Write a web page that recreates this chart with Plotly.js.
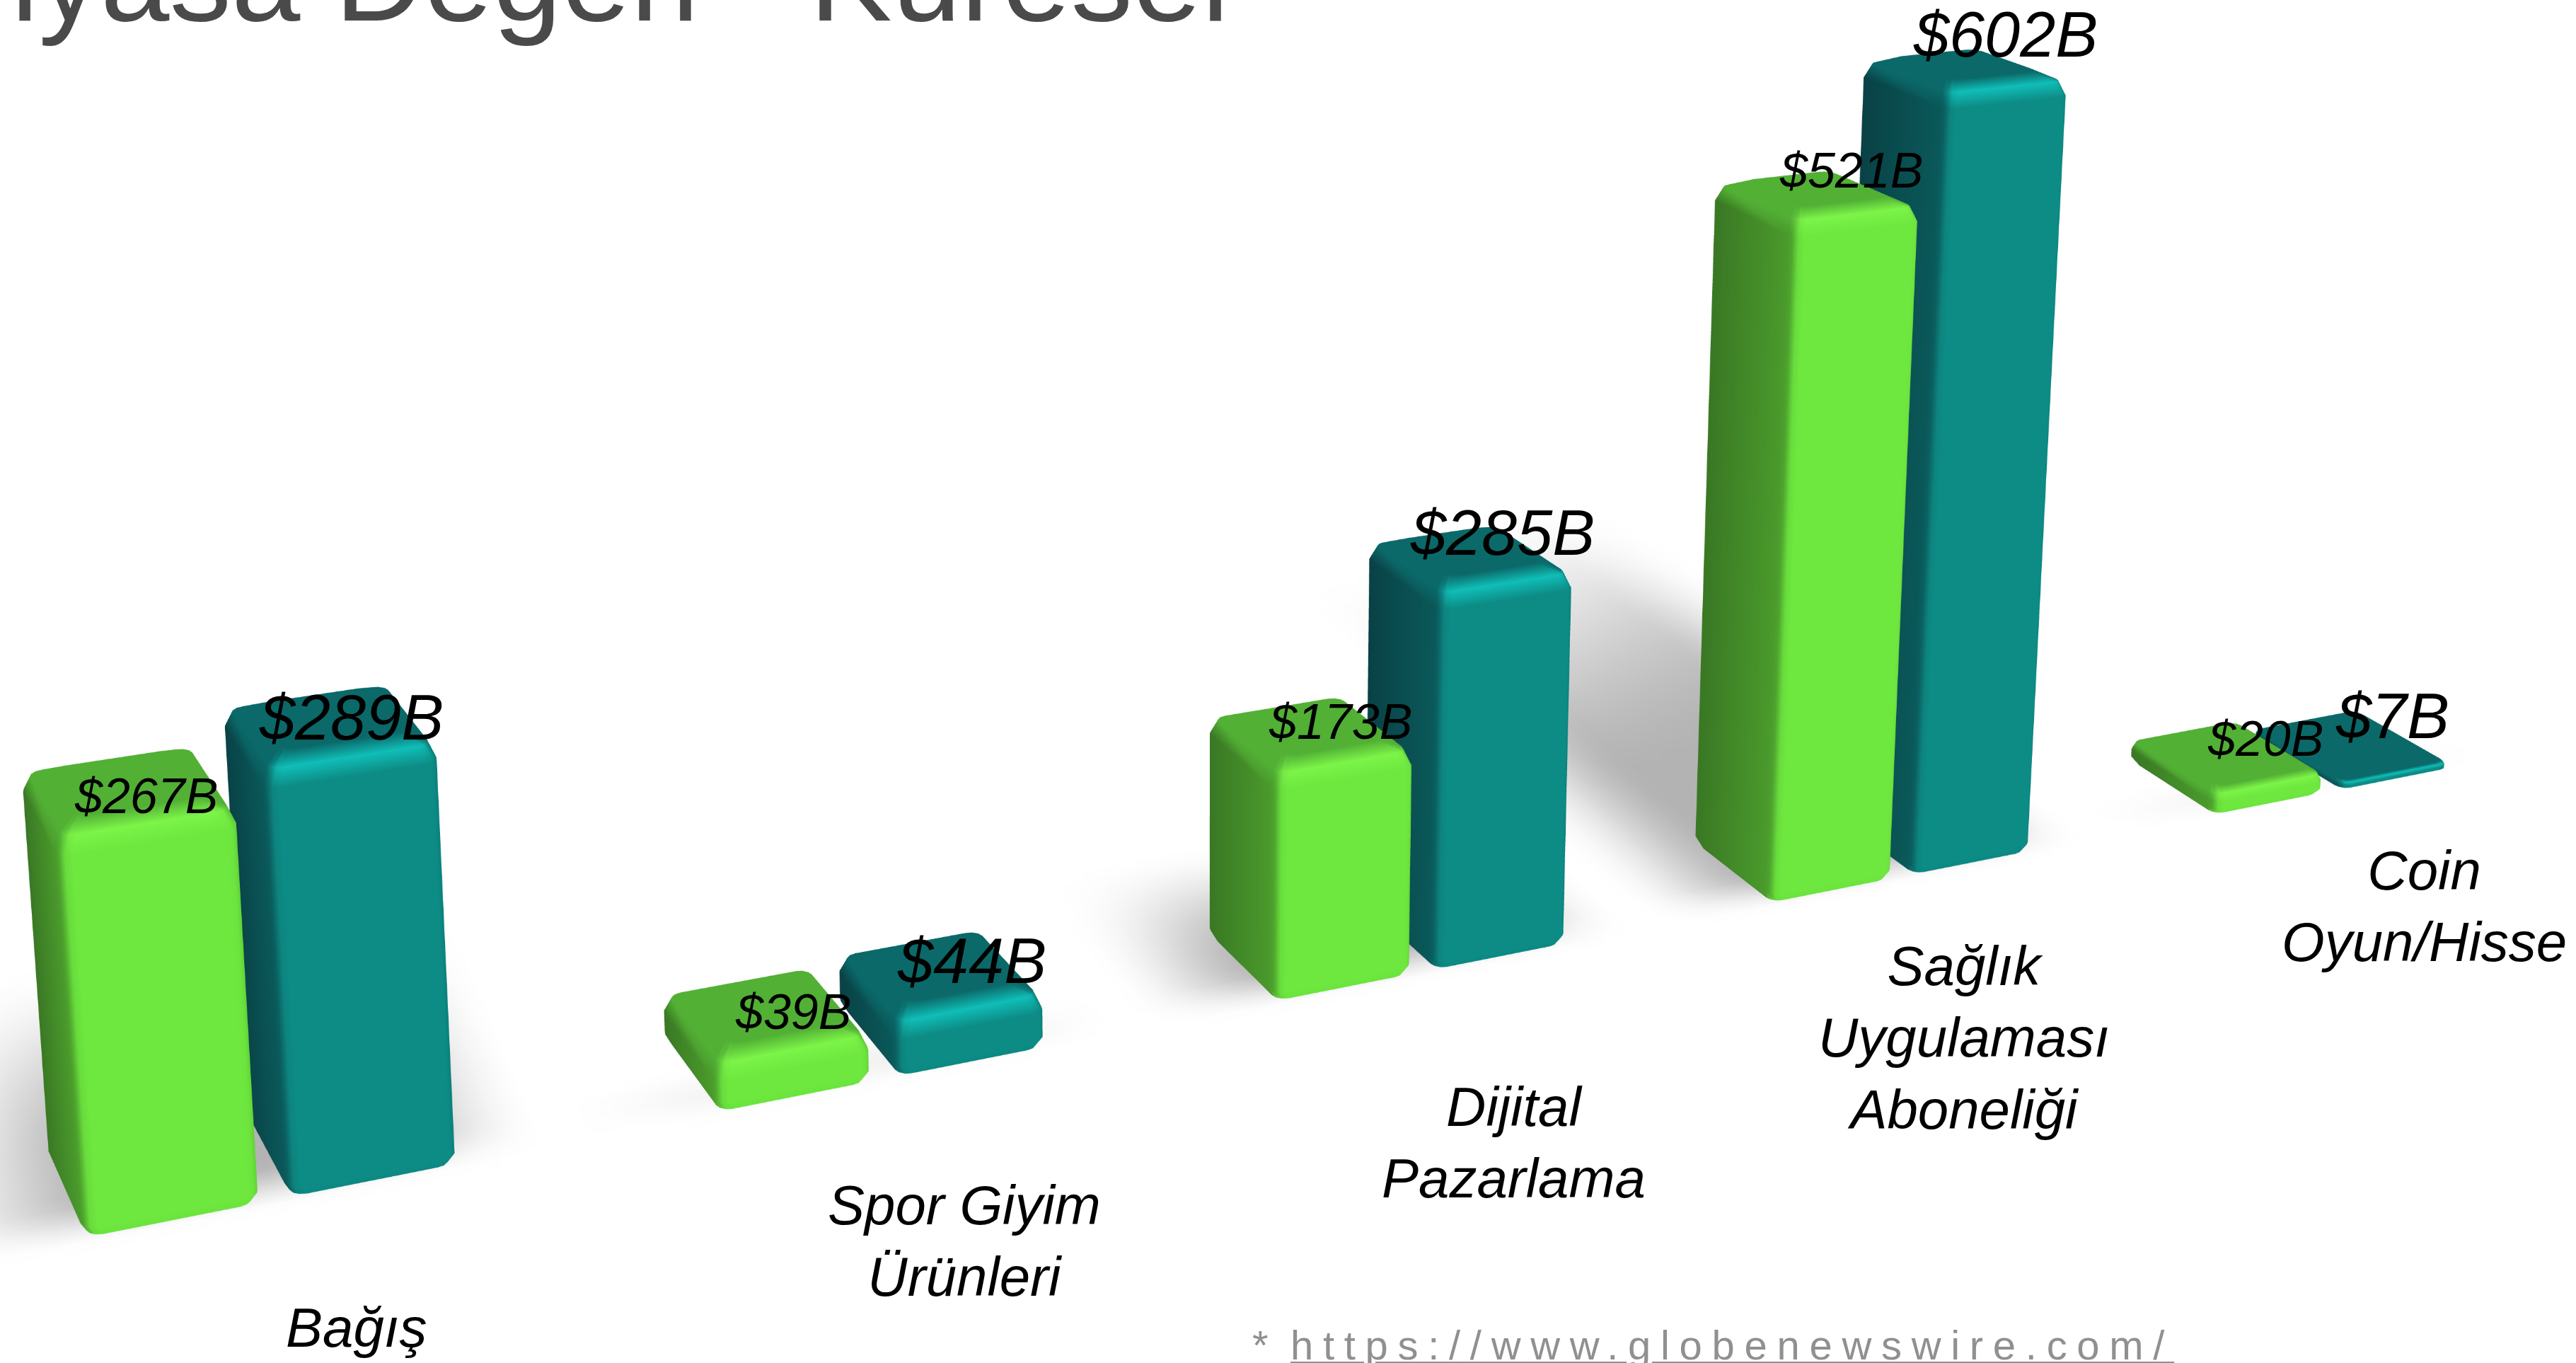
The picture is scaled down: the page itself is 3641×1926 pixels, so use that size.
<!DOCTYPE html>
<html><head><meta charset="utf-8">
<script src="https://cdn.plot.ly/plotly-3.0.1.min.js"></script>
<style>
html,body{margin:0;padding:0;background:#fff;overflow:hidden}
#wrap{position:fixed;left:0;top:0;width:3641px;height:1926px;overflow:hidden;background:#fff}
#chart{position:absolute;left:-275px;top:-2132px;width:3916px;height:4096px}
text.annotation-text[data-unformatted^="https"]{letter-spacing:13.7px}
</style></head><body>
<div id="wrap"><div id="chart"></div></div>
<script>
var categories = ["Bağış","Spor Giyim<br>Ürünleri","Dijital<br>Pazarlama","Sağlık<br>Uygulaması<br>Aboneliği","Coin<br>Oyun/Hisse"];
var greenValues = [267,39,173,521,20];
var tealValues = [289,44,285,602,7];
var titleText = "Piyasa Değeri - Küresel";
var sourceText = "https://www.globenewswire.com/";

var zScale = 0.000839, W = 0.088, DEPTH = 0.092, GAP = 0.0137, STEP = 0.3292, X0 = 0.0738, YF = 1.708;
var xr=[-0.3,2.0], yr=[1.4,2.7], zr=[-14,700];
// label nudges in screen pixels
var greenNudge=[[9,-21],[28,-7],[35,7],[44,26],[53,23]];
var tealNudge=[[16,0],[35,9],[39,26],[53,42],[58,42]];
var catNudge=[[53,63],[-14,-16],[-49,-53],[-128,-60],[-114,-12]];

function lerpC(a,b,t){return [0,1,2].map(function(i){return a[i]+(b[i]-a[i])*t;});}
function css(c){return 'rgb('+c.map(function(v){return Math.round(v);}).join(',')+')';}
var greenPal={front:[110,232,63],left:[58,120,36],right:[96,208,54],back:[70,140,40],top:[82,176,53],hi:[124,244,72],foot:[104,226,60]};
var tealPal ={front:[13,140,134],left:[9,66,70],right:[10,124,120],back:[10,80,80],top:[11,105,105],hi:[16,190,184],foot:[12,134,128]};

function addBar(m,x0,x1,y0,y1,v,pal){
  var h=v*zScale, r=0.007, N=3;
  var skew=0.012*Math.max(0,1-(x0-X0)/(STEP*4));
  var bt=Math.min(0.014,h*0.45), bb=Math.min(0.006,h*0.25);
  var rings=[
    {z:0,d:0.003,c:'foot'},
    {z:bb,d:0,c:'side'},
    {z:h-bt,d:0,c:'side'},
    {z:h-bt*0.35,d:bt*0.25,c:'hi'},
    {z:h,d:bt*1.0,c:'top'}
  ];
  var leftNear=lerpC(pal.left,pal.front,0.3);
  function face(a,isFrontCorner){
    var nx=Math.cos(a),ny=Math.sin(a);
    var fx=nx<0?(isFrontCorner?leftNear:pal.left):pal.right, fy=ny<0?pal.front:pal.back;
    var t=ny*ny; t=t*t*(3-2*t);
    return lerpC(fx,fy,t);
  }
  var corners=[[x0,y0,Math.PI,1.5*Math.PI],[x1,y0,1.5*Math.PI,2*Math.PI],[x1,y1,0,0.5*Math.PI],[x0,y1,0.5*Math.PI,Math.PI]];
  var start=m.x.length, cnt=4*(N+1);
  rings.forEach(function(R){
    corners.forEach(function(C){
      for(var s=0;s<=N;s++){
        var a=C[2]+(C[3]-C[2])*s/N;
        var sx=(C[0]===x0?1:-1), sy=(C[1]===y0?1:-1);
        var cx=C[0]+sx*(R.d+r), cy=C[1]+sy*(R.d+r);
        var py_=cy+Math.sin(a)*r;
        m.x.push(cx+Math.cos(a)*r-skew*(py_-y0)/(y1-y0)); m.y.push(py_); m.z.push(R.z/zScale);
        var col=face(a,C[1]===y0);
        var ny=Math.sin(a);
        if(R.c==='foot') col=lerpC(col,pal.foot,ny<0?0.6:0);
        if(R.c==='hi') col=lerpC(pal.top,pal.hi,ny<0?Math.min(1,ny*ny*1.2):0.0);
        if(R.c==='top') col=pal.top;
        m.c.push(css(col));
      }
    });
  });
  for(var q=0;q<rings.length-1;q++){
    for(var p=0;p<cnt;p++){
      var a0=start+q*cnt+p, a1=start+q*cnt+(p+1)%cnt, b0=a0+cnt, b1=a1+cnt;
      m.i.push(a0,a1); m.j.push(a1,b1); m.k.push(b0,b0);
    }
  }
  var ci=m.x.length;
  m.x.push((x0+x1)/2-skew/2); m.y.push((y0+y1)/2); m.z.push(h/zScale); m.c.push(css(pal.top));
  var lastR=start+(rings.length-1)*cnt;
  for(var t=0;t<cnt;t++){m.i.push(lastR+t);m.j.push(lastR+(t+1)%cnt);m.k.push(ci);}
}
function newMesh(){return {x:[],y:[],z:[],i:[],j:[],k:[],c:[]};}
var gm=newMesh(), tm=newMesh(), groups=[];
categories.forEach(function(c,n){
  var xg=X0+STEP*n, xt=xg+W+GAP;
  addBar(gm,xg,xg+W,YF,YF+DEPTH,greenValues[n],greenPal);
  addBar(tm,xt,xt+W,YF,YF+DEPTH,tealValues[n],tealPal);
  groups.push({xg:xg,xt:xt,hg:greenValues[n]*zScale,ht:tealValues[n]*zScale});
});
var LIGHT={ambient:1,diffuse:0,specular:0,roughness:1,fresnel:0};
function meshTrace(m,name){return {type:'mesh3d',name:name,x:m.x,y:m.y,z:m.z,i:m.i,j:m.j,k:m.k,vertexcolor:m.c,lighting:LIGHT,flatshading:false,hoverinfo:'skip',showscale:false};}

function ss(t){var x=Math.max(0,Math.min(1,(t+1)/2));return x*x*(3-2*x);}
var sh=newMesh(), nx=210, ny=90;
for(var a=0;a<ny;a++){for(var b=0;b<nx;b++){
  var X=-0.28+b*0.01, Y=1.6+a*0.012, dark=0;
  groups.forEach(function(G){
    var t=Math.max(0,Math.min(1,(X-G.xg-W/2)/(W+GAP)));
    var h=G.hg+(G.ht-G.hg)*t;
    var L=Math.max(0.03,h*0.9), A=0.30*Math.min(1,h/0.12+0.1);
    var s=A*ss((X-(G.xg-0.03))/0.05)*ss((G.xt+W-X)/0.05)*ss((Y-(YF+0.02))/0.025)*ss((YF+L-Y)/(0.5*L+0.01));
    dark=Math.max(dark,s);
  });
  var g=255*(1-dark);
  sh.x.push(X);sh.y.push(Y);sh.z.push(-1);sh.c.push(css([g,g,g]));
}}
for(a=0;a<ny-1;a++){for(b=0;b<nx-1;b++){
  var p0=a*nx+b,p1=p0+1,p2=p0+nx,p3=p2+1;
  sh.i.push(p0,p1);sh.j.push(p1,p3);sh.k.push(p2,p2);
}}

var textFont='"Liberation Sans",Arial,sans-serif';
var sceneAnn=[];
categories.forEach(function(c,n){
  var xg=X0+STEP*n, cx=xg+W+GAP/2, ly=YF+0.044;
  sceneAnn.push({x:xg+W/2,y:ly,z:greenValues[n],xshift:greenNudge[n][0],yshift:greenNudge[n][1],text:'<i>$'+greenValues[n]+'B</i>',showarrow:false,font:{size:70,color:'#000',family:textFont}});
  sceneAnn.push({x:xg+W+GAP+W/2,y:ly,z:tealValues[n],xshift:tealNudge[n][0],yshift:tealNudge[n][1],text:'<i>$'+tealValues[n]+'B</i>',showarrow:false,font:{size:90,color:'#000',family:textFont}});
  sceneAnn.push({x:cx,y:1.55,z:0,xshift:catNudge[n][0],yshift:catNudge[n][1],text:'<i>'+c+'</i>',showarrow:false,font:{size:78,color:'#000',family:textFont}});
});

var bc=[(xr[0]+xr[1])/2,(yr[0]+yr[1])/2,(zr[0]+zr[1])/2*zScale];
var fwd=[0.36255,0.91080,-0.19750];
var eye=[0-bc[0],0-bc[1],1-bc[2]];
var d=2;
var center=[eye[0]+fwd[0]*d,eye[1]+fwd[1]*d,eye[2]+fwd[2]*d];
function hiddenAxis(r){return {range:r,autorange:false,visible:false,showgrid:false,zeroline:false,showline:false,showticklabels:false,showspikes:false,showbackground:false,title:{text:''}};}
var PW=3916,PH=4096,OX=275,OY=2132;
function px(x){return (x+OX)/PW;} function py(y){return 1-(y+OY)/PH;}
var layout={
  width:PW,height:PH,margin:{l:0,r:0,t:0,b:0,pad:0},paper_bgcolor:'#fff',showlegend:false,hovermode:false,
  scene:{domain:{x:[0,1],y:[0,1]},
    xaxis:hiddenAxis(xr),yaxis:hiddenAxis(yr),zaxis:hiddenAxis(zr),
    aspectmode:'manual',aspectratio:{x:xr[1]-xr[0],y:yr[1]-yr[0],z:(zr[1]-zr[0])*zScale},
    camera:{eye:{x:eye[0],y:eye[1],z:eye[2]},center:{x:center[0],y:center[1],z:center[2]},up:{x:0,y:0,z:1},projection:{type:'perspective'}},
    annotations:sceneAnn,bgcolor:'#fff'},
  annotations:[
    {xref:'paper',yref:'paper',x:px(-103),y:py(68),xanchor:'left',yanchor:'bottom',text:titleText,showarrow:false,font:{size:175,color:'#4a4a4a',family:textFont}},
    {xref:'paper',yref:'paper',x:px(1768),y:py(1900),xanchor:'left',yanchor:'middle',text:'*',showarrow:false,font:{size:58,color:'#909090',family:textFont}},
    {xref:'paper',yref:'paper',x:px(1822),y:py(1900),xanchor:'left',yanchor:'middle',text:sourceText,showarrow:false,font:{size:58,color:'#909090',family:textFont,lineposition:'under'}}
  ]
};
Plotly.newPlot('chart',[meshTrace(sh,'gölge'),meshTrace(gm,'Yeşil'),meshTrace(tm,'Turkuaz')],layout,{displayModeBar:false});
</script>
</body></html>
